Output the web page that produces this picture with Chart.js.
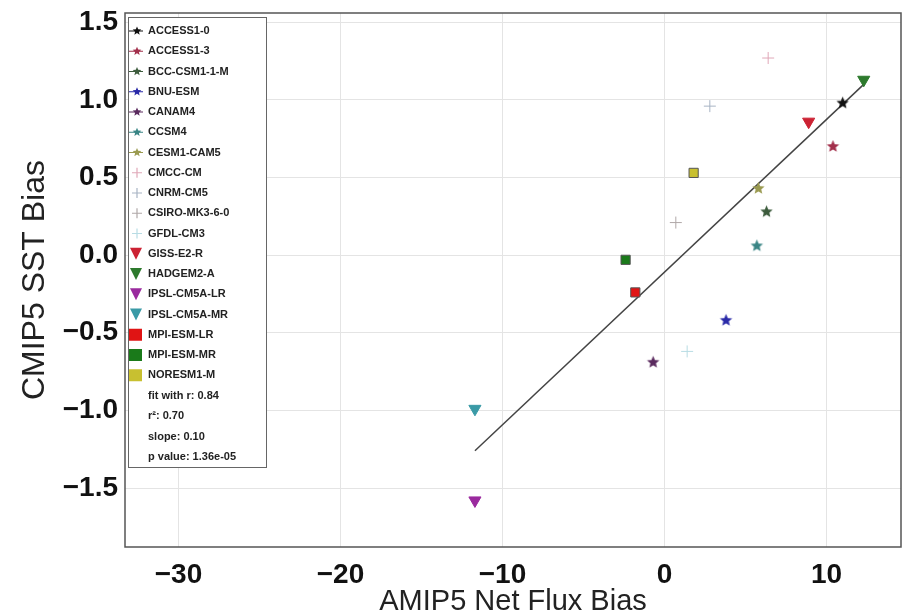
<!DOCTYPE html>
<html>
<head>
<meta charset="utf-8">
<script src="https://cdn.jsdelivr.net/npm/chart.js@4.4.0/dist/chart.umd.min.js"></script>
<style>
  html, body { margin: 0; padding: 0; background: #fff; }
  #wrap { width: 909px; height: 616px; }
</style>
</head>
<body>
<div id="wrap"><canvas id="fluxChart" width="909" height="616"></canvas></div>
<script>
// data
var models = ["ACCESS1-0", "ACCESS1-3", "BCC-CSM1-1-M", "BNU-ESM", "CANAM4", "CCSM4", "CESM1-CAM5",
  "CMCC-CM", "CNRM-CM5", "CSIRO-MK3-6-0", "GFDL-CM3", "GISS-E2-R", "HADGEM2-A",
  "IPSL-CM5A-LR", "IPSL-CM5A-MR", "MPI-ESM-LR", "MPI-ESM-MR", "NORESM1-M"];
var fluxBias = [11.0, 10.4, 6.3, 3.8, -0.7, 5.7, 5.8, 6.4, 2.8, 0.7, 1.4, 8.9, 12.3, -11.7, -11.7, -1.8, -2.4, 1.8];
var sstBias = [0.98, 0.70, 0.28, -0.42, -0.69, 0.06, 0.43, 1.27, 0.96, 0.21, -0.62, 0.86, 1.13, -1.58, -0.99, -0.24, -0.03, 0.53];
var markers = ["star", "star", "star", "star", "star", "star", "star",
  "plus", "plus", "plus", "plus", "tri", "tri", "tri", "tri", "sq", "sq", "sq"];
var colors = ["#111111", "#a3304c", "#3d5c3d", "#2a2aa8", "#5a2a5e", "#3a8585", "#9a9a50",
  "#e0a8b8", "#a8b4c4", "#b0a8a8", "#b8dce4", "#cc2233", "#2d7a2d",
  "#9a2a9e", "#3a9aa6", "#e01414", "#1a7a1a", "#c8c030"];

var fitX = [-11.7, 12.3];
var fitY = [-1.26, 1.10];
var fitText = ["fit with r: 0.84", "r\u00b2: 0.70", "slope: 0.10", "p value: 1.36e-05"];

var xTicks = [-30, -20, -10, 0, 10];
var yTicks = [-1.5, -1.0, -0.5, 0.0, 0.5, 1.0, 1.5];

function starPath(ctx, cx, cy, r) {
  ctx.beginPath();
  for (var i = 0; i < 10; i++) {
    var rr = i % 2 === 0 ? r : r * 0.45;
    var a = -Math.PI / 2 + i * Math.PI / 5;
    ctx.lineTo(cx + rr * Math.cos(a), cy + rr * Math.sin(a));
  }
  ctx.closePath();
}

function makeStar(color, r) {
  var c = document.createElement("canvas");
  c.width = c.height = Math.ceil(r * 2 + 2);
  var g = c.getContext("2d");
  g.fillStyle = color;
  starPath(g, c.width / 2, c.height / 2, r);
  g.fill();
  return c;
}

var datasets = models.map(function (m, i) {
  var ds = {
    label: m,
    data: [{ x: fluxBias[i], y: sstBias[i] }],
    backgroundColor: colors[i],
    borderColor: colors[i],
    borderWidth: 1
  };
  if (markers[i] === "star") { ds.pointStyle = makeStar(colors[i], 6.5); }
  if (markers[i] === "plus") { ds.pointStyle = "cross"; ds.pointRadius = 6; ds.borderWidth = 1; }
  if (markers[i] === "tri") { ds.pointStyle = "triangle"; ds.rotation = 180; ds.pointRadius = 7; }
  if (markers[i] === "sq") { ds.pointStyle = "rect"; ds.pointRadius = 6.5; ds.borderColor = "#555"; }
  return ds;
});

datasets.push({
  type: "line",
  label: "fit",
  data: fitX.map(function (x, i) { return { x: x, y: fitY[i] }; }),
  borderColor: "#444",
  borderWidth: 1.5,
  pointRadius: 0,
  fill: false
});

function fmtMinus(v, digits) {
  var s = Math.abs(v).toFixed(digits);
  return (v < 0 ? "\u2212" : "") + s;
}

// frame + legend box inside the plot
var legendBox = {
  id: "legendBox",
  afterDraw: function (chart) {
    var ctx = chart.ctx, a = chart.chartArea;
    ctx.save();
    ctx.strokeStyle = "#555";
    ctx.lineWidth = 1.5;
    ctx.strokeRect(a.left, a.top, a.right - a.left, a.bottom - a.top);

    var bx = a.left + 3, by = a.top + 4, bw = 138, bh = 450;
    ctx.fillStyle = "#fff";
    ctx.fillRect(bx, by, bw, bh);
    ctx.strokeStyle = "#666";
    ctx.lineWidth = 1;
    ctx.strokeRect(bx + 0.5, by + 0.5, bw, bh);

    var rowH = 20.25, y0 = by + 14;
    ctx.font = "bold 11px 'Liberation Sans', Arial, sans-serif";
    ctx.textBaseline = "middle";
    models.forEach(function (m, i) {
      var y = y0 + i * rowH, mx = bx + 9;
      ctx.fillStyle = colors[i];
      ctx.strokeStyle = colors[i];
      if (markers[i] === "star") {
        starPath(ctx, mx, y, 4.5); ctx.fill();
        ctx.lineWidth = 1; ctx.beginPath(); ctx.moveTo(mx - 8, y); ctx.lineTo(mx + 6, y); ctx.stroke();
      } else if (markers[i] === "plus") {
        ctx.lineWidth = 1.2; ctx.beginPath();
        ctx.moveTo(mx - 5, y); ctx.lineTo(mx + 5, y); ctx.moveTo(mx, y - 5); ctx.lineTo(mx, y + 5); ctx.stroke();
      } else if (markers[i] === "tri") {
        ctx.beginPath(); ctx.moveTo(mx - 7, y - 6); ctx.lineTo(mx + 5, y - 6); ctx.lineTo(mx - 1, y + 6); ctx.closePath(); ctx.fill();
      } else {
        ctx.fillRect(mx - 8, y - 6, 13, 12);
      }
      ctx.fillStyle = "#222";
      ctx.fillText(m, bx + 20, y);
    });
    var yt = y0 + models.length * rowH;
    fitText.forEach(function (t, i) {
      ctx.fillText(t, bx + 20, yt + i * 20.6);
    });
    ctx.restore();
  }
};

new Chart(document.getElementById("fluxChart"), {
  type: "scatter",
  data: { datasets: datasets },
  options: {
    responsive: false,
    animation: false,
    layout: { padding: { top: 13, right: 0, left: 0, bottom: 0 } },
    plugins: { legend: { display: false }, tooltip: { enabled: false } },
    scales: {
      x: {
        type: "linear",
        min: -33.3, max: 14.6,
        afterBuildTicks: function (s) { s.ticks = xTicks.map(function (v) { return { value: v }; }); },
        afterFit: function (s) { s.height = 69; s.paddingLeft = 0; s.paddingRight = 0; },
        grid: { color: "#e4e4e4", lineWidth: 1, drawTicks: false },
        border: { display: false },
        ticks: {
          color: "#111", padding: 14,
          font: { family: "'Liberation Sans', Arial, sans-serif", size: 28, weight: "bold", lineHeight: 1 },
          callback: function (v) { return fmtMinus(v, 0); }
        },
        title: {
          display: true, text: "AMIP5 Net Flux Bias", color: "#222", padding: { top: 0, bottom: 0 },
          font: { family: "'Liberation Sans', Arial, sans-serif", size: 29, lineHeight: 1 }
        }
      },
      y: {
        type: "linear",
        min: -1.88, max: 1.56,
        afterBuildTicks: function (s) { s.ticks = yTicks.map(function (v) { return { value: v }; }); },
        afterFit: function (s) { s.width = 125; s.paddingTop = 0; s.paddingBottom = 0; },
        grid: { color: "#e4e4e4", lineWidth: 1, drawTicks: false },
        border: { display: false },
        ticks: {
          color: "#111", padding: 7,
          font: { family: "'Liberation Sans', Arial, sans-serif", size: 28, weight: "bold", lineHeight: 1 },
          callback: function (v) { return fmtMinus(v, 1); }
        },
        title: {
          display: true, text: "CMIP5 SST Bias", color: "#222", padding: { top: 19, bottom: 0 },
          font: { family: "'Liberation Sans', Arial, sans-serif", size: 32, lineHeight: 1 }
        }
      }
    }
  },
  plugins: [legendBox]
});
</script>
</body>
</html>
